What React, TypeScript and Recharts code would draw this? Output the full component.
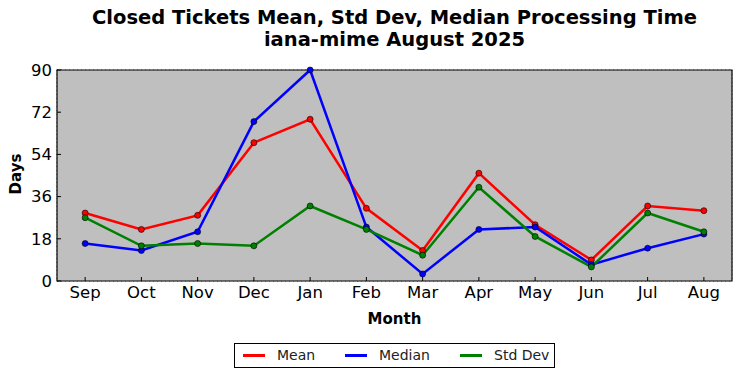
import React from "react";
import { LineChart, Line, XAxis, YAxis, CartesianGrid, ReferenceArea } from "recharts";

const months = ["Sep", "Oct", "Nov", "Dec", "Jan", "Feb", "Mar", "Apr", "May", "Jun", "Jul", "Aug"];
const meanValues = [29, 22, 28, 59, 69, 31, 13, 46, 24, 9, 32, 30];
const medianValues = [16, 13, 21, 68, 90, 23, 3, 22, 23, 7, 14, 20];
const stdDevValues = [27, 15, 16, 15, 32, 22, 11, 40, 19, 6, 29, 21];
const yTicks = [0, 18, 36, 54, 72, 90];
const seriesNames = ["Mean", "Median", "Std Dev"];
const seriesColors = ["#ff0000", "#0000ff", "#008000"];
const seriesKeys = ["mean", "median", "std"];

const data = months.map((m, i) => ({
  x: i,
  month: m,
  mean: meanValues[i],
  median: medianValues[i],
  std: stdDevValues[i],
}));

const font = "'DejaVu Sans', sans-serif";
const xTickIdx = months.map((_, i) => i);

export default function App() {
  return (
    <div style={{ position: "absolute", left: 0, top: 0, width: 742, height: 378, background: "#fff", fontFamily: font }}>
      <div style={{ position: "absolute", left: 57, width: 675, top: 7, textAlign: "center", fontSize: 19.5, fontWeight: "bold", lineHeight: "22px", color: "#000" }}>
        Closed Tickets Mean, Std Dev, Median Processing Time
        <br />
        iana-mime August 2025
      </div>
      <LineChart
        width={742}
        height={378}
        data={data}
        margin={{ top: 70, left: 7, right: 10, bottom: 67 }}
      >
        <ReferenceArea x1={-0.5} x2={11.5} y1={0} y2={90} fill="#bfbfbf" fillOpacity={1} stroke="none" ifOverflow="extendDomain" />
        <CartesianGrid stroke="#555" strokeDasharray="1 3" strokeWidth={1} />
        <XAxis
          dataKey="x"
          type="number"
          domain={[-0.5, 11.5]}
          ticks={xTickIdx}
          tickFormatter={(v: number) => months[v]}
          tickLine={{ stroke: "#000" }}
          tickSize={-4}
          tickMargin={9}
          axisLine={false}
          height={30}
          tick={{ fill: "#000", fontSize: 16.5, fontFamily: font }}
        />
        <XAxis
          xAxisId="top"
          orientation="top"
          dataKey="x"
          type="number"
          domain={[-0.5, 11.5]}
          ticks={xTickIdx}
          tickFormatter={() => ""}
          tickLine={{ stroke: "#000" }}
          tickSize={-4}
          axisLine={false}
          height={0}
        />
        <YAxis
          type="number"
          domain={[0, 90]}
          ticks={yTicks}
          tickLine={{ stroke: "#000" }}
          tickSize={-4}
          tickMargin={9}
          axisLine={false}
          width={50}
          tick={{ fill: "#000", fontSize: 16.5, fontFamily: font }}
        />
        <YAxis
          yAxisId="right"
          orientation="right"
          type="number"
          domain={[0, 90]}
          ticks={yTicks}
          tickFormatter={() => ""}
          tickLine={{ stroke: "#000" }}
          tickSize={-4}
          axisLine={false}
          width={0}
        />
        {seriesKeys.map((k, i) => (
          <Line
            key={k}
            dataKey={k}
            name={seriesNames[i]}
            stroke={seriesColors[i]}
            strokeWidth={2.5}
            isAnimationActive={false}
            dot={{ r: 3, fill: seriesColors[i], stroke: "#000", strokeWidth: 0.6 }}
            activeDot={false}
          />
        ))}
        <ReferenceArea x1={-0.5} x2={11.5} y1={0} y2={90} fill="none" stroke="#000" strokeWidth={1.2} ifOverflow="extendDomain" />
      </LineChart>
      <div style={{ position: "absolute", left: 0, top: 175, width: 32, height: 0 }}>
        <div style={{ position: "absolute", left: -14, top: -10, width: 60, textAlign: "center", transform: "rotate(-90deg)", fontSize: 15, fontWeight: "bold", lineHeight: "18px" }}>
          Days
        </div>
      </div>
      <div style={{ position: "absolute", left: 57, width: 675, top: 310, textAlign: "center", fontSize: 15, fontWeight: "bold", lineHeight: "18px" }}>
        Month
      </div>
      <div style={{ position: "absolute", left: 234, top: 343, width: 319, height: 23, border: "1px solid #000", background: "#fff" }}>
        {seriesNames.map((n, i) => {
          const lineLeft = [8, 110, 225][i];
          return (
            <React.Fragment key={n}>
              <div style={{ position: "absolute", left: lineLeft, top: 10, width: 22, height: 2.5, background: seriesColors[i] }} />
              <div style={{ position: "absolute", left: lineLeft + 34, top: 3, fontSize: 14, lineHeight: "16px", color: "#222" }}>{n}</div>
            </React.Fragment>
          );
        })}
      </div>
    </div>
  );
}
